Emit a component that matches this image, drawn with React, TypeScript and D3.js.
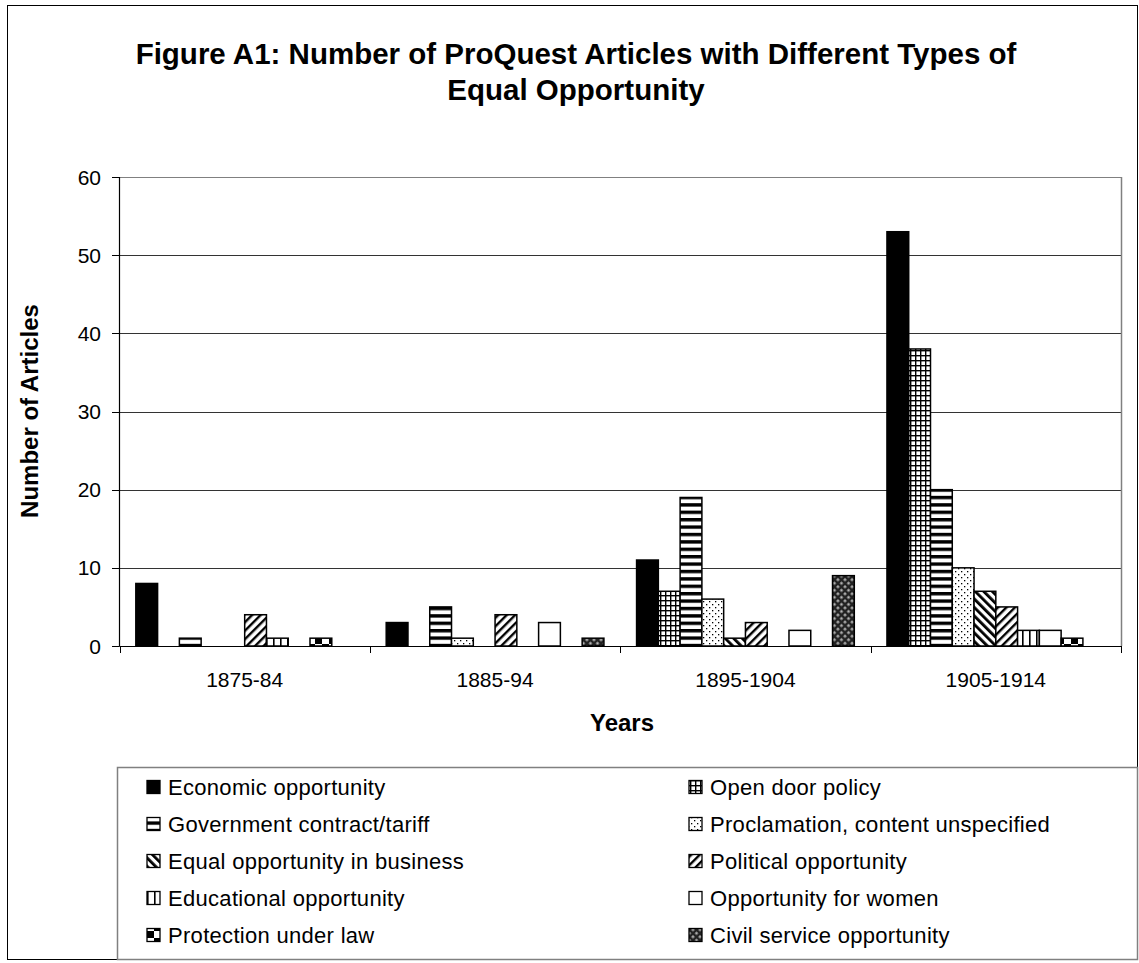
import React from "react";
import * as d3 from "d3";

const categories = ["1875-84", "1885-94", "1895-1904", "1905-1914"];
const seriesNames = [
  "Economic opportunity",
  "Open door policy",
  "Government contract/tariff",
  "Proclamation, content unspecified",
  "Equal opportunity in business",
  "Political opportunity",
  "Educational opportunity",
  "Opportunity for women",
  "Protection under law",
  "Civil service opportunity",
];
const economic = [8, 3, 11, 53];
const openDoor = [0, 0, 7, 38];
const government = [1, 5, 19, 20];
const proclamation = [0, 1, 6, 10];
const equalBusiness = [0, 0, 1, 7];
const political = [4, 4, 3, 5];
const educational = [1, 0, 0, 2];
const women = [0, 3, 2, 2];
const protection = [1, 0, 0, 1];
const civilService = [0, 1, 9, 0];
const seriesValues = [
  economic,
  openDoor,
  government,
  proclamation,
  equalBusiness,
  political,
  educational,
  women,
  protection,
  civilService,
];
const patternIds = [
  "solid",
  "grid",
  "hstripe",
  "dots",
  "downdiag",
  "updiag",
  "vstripe",
  "white",
  "checker",
  "diamond",
];
const yTicks = [0, 10, 20, 30, 40, 50, 60];

const FONT = "'Liberation Sans', Arial, sans-serif";

function fillFor(id: string) {
  if (id === "solid") return "#000";
  if (id === "white") return "#fff";
  return `url(#${id})`;
}

export default function App() {
  const W = 1139;
  const H = 963;
  const left = 119.5;
  const right = 1121;
  const top = 177;
  const bottom = 646;

  const x = d3.scaleBand<string>().domain(categories).range([left, right]).padding(0);
  const y = d3.scaleLinear().domain([0, 60]).range([bottom, top]);
  const n = seriesNames.length;
  const bw = x.bandwidth() / (n + 1.5);
  const inner = d3
    .scaleBand<number>()
    .domain(d3.range(n))
    .range([0.75 * bw, 0.75 * bw + n * bw])
    .padding(0);

  const legendX = [147, 689];
  const legendY0 = 787;
  const legendDy = 37;

  return (
    <svg
      width={W}
      height={H}
      style={{ position: "absolute", left: 0, top: 0, background: "#fff" }}
      fontFamily={FONT}
    >
      <defs>
        <pattern id="grid" width={5} height={5} patternUnits="userSpaceOnUse">
          <rect width={5} height={5} fill="#fff" />
          <rect x={0} y={0} width={1.4} height={5} fill="#000" />
          <rect x={0} y={0} width={5} height={1.4} fill="#000" />
        </pattern>
        <pattern id="hstripe" width={8} height={7.4} patternUnits="userSpaceOnUse">
          <rect width={8} height={7.4} fill="#fff" />
          <rect x={0} y={0} width={8} height={3.4} fill="#000" />
        </pattern>
        <pattern id="dots" width={6} height={6} patternUnits="userSpaceOnUse">
          <rect width={6} height={6} fill="#fff" />
          <rect x={1} y={1} width={1.3} height={1.3} fill="#000" />
          <rect x={4} y={4} width={1.3} height={1.3} fill="#000" />
        </pattern>
        <pattern
          id="downdiag"
          width={6}
          height={6}
          patternUnits="userSpaceOnUse"
          patternTransform="rotate(-45)"
        >
          <rect width={6} height={6} fill="#fff" />
          <rect x={0} y={0} width={2.8} height={6} fill="#000" />
        </pattern>
        <pattern
          id="updiag"
          width={6}
          height={6}
          patternUnits="userSpaceOnUse"
          patternTransform="rotate(45)"
        >
          <rect width={6} height={6} fill="#fff" />
          <rect x={0} y={0} width={2.4} height={6} fill="#000" />
        </pattern>
        <pattern id="vstripe" width={7} height={7} patternUnits="userSpaceOnUse">
          <rect width={7} height={7} fill="#fff" />
          <rect x={0} y={0} width={1.6} height={7} fill="#000" />
        </pattern>
        <pattern id="checker" width={14} height={14} patternUnits="userSpaceOnUse">
          <rect width={14} height={14} fill="#fff" />
          <rect x={0} y={0} width={7} height={7} fill="#000" />
          <rect x={7} y={7} width={7} height={7} fill="#000" />
        </pattern>
        <pattern
          id="diamond"
          width={5}
          height={5}
          patternUnits="userSpaceOnUse"
          patternTransform="rotate(45)"
        >
          <rect width={5} height={5} fill="#222" />
          <rect x={1.2} y={1.2} width={2.4} height={2.4} fill="#bbb" />
        </pattern>
      </defs>

      {/* outer border */}
      <rect x={7.5} y={5.5} width={1130} height={954} fill="#fff" stroke="#000" strokeWidth={1} />

      {/* title */}
      <text x={576} y={64} textAnchor="middle" fontWeight="bold" fontSize={29.5} fill="#000">
        Figure A1: Number of ProQuest Articles with Different Types of
      </text>
      <text x={576} y={100} textAnchor="middle" fontWeight="bold" fontSize={29.5} fill="#000">
        Equal Opportunity
      </text>

      {/* gridlines */}
      {yTicks.map((t) => (
        <line
          key={"g" + t}
          x1={left}
          x2={right}
          y1={Math.round(y(t)) + 0.5}
          y2={Math.round(y(t)) + 0.5}
          stroke={t === 60 ? "#808080" : "#333"}
          strokeWidth={1}
        />
      ))}
      {/* right border */}
      <line x1={right + 0.5} x2={right + 0.5} y1={top} y2={bottom} stroke="#808080" strokeWidth={1.5} />

      {/* bars */}
      {seriesValues.map((vals, si) =>
        vals.map((v, ci) =>
          v > 0 ? (
            <rect
              key={`b${si}-${ci}`}
              x={(x(categories[ci]) as number) + (inner(si) as number)}
              y={y(v)}
              width={inner.bandwidth()}
              height={y(0) - y(v)}
              fill={fillFor(patternIds[si])}
              stroke="#000"
              strokeWidth={1.5}
            />
          ) : null
        )
      )}

      {/* axes */}
      <line x1={left} x2={left} y1={top} y2={bottom} stroke="#000" strokeWidth={1.2} />
      <line x1={left} x2={right} y1={bottom + 0.5} y2={bottom + 0.5} stroke="#000" strokeWidth={1.2} />
      {yTicks.map((t) => (
        <g key={"yt" + t}>
          <line
            x1={left - 7.5}
            x2={left}
            y1={Math.round(y(t)) + 0.5}
            y2={Math.round(y(t)) + 0.5}
            stroke="#000"
            strokeWidth={1}
          />
          <text x={101} y={y(t)} dy="0.36em" textAnchor="end" fontSize={21} fill="#000">
            {t}
          </text>
        </g>
      ))}
      {[...categories.map((c) => x(c) as number), right].map((px, i) => (
        <line
          key={"xt" + i}
          x1={Math.round(px) + 0.5}
          x2={Math.round(px) + 0.5}
          y1={bottom}
          y2={bottom + 7}
          stroke="#000"
          strokeWidth={1}
        />
      ))}
      {categories.map((c) => (
        <text
          key={"xl" + c}
          x={(x(c) as number) + x.bandwidth() / 2}
          y={687}
          textAnchor="middle"
          fontSize={21}
          fill="#000"
        >
          {c}
        </text>
      ))}

      {/* axis titles */}
      <text x={622} y={731} textAnchor="middle" fontWeight="bold" fontSize={24} fill="#000">
        Years
      </text>
      <text
        transform={`translate(38,411) rotate(-90)`}
        textAnchor="middle"
        fontWeight="bold"
        fontSize={24}
        fill="#000"
      >
        Number of Articles
      </text>

      {/* legend */}
      <rect x={117.5} y={767.5} width={1020} height={192} fill="#fff" stroke="#808080" strokeWidth={1.5} />
      {seriesNames.map((name, i) => {
        const col = i % 2;
        const row = Math.floor(i / 2);
        const lx = legendX[col];
        const ly = legendY0 + row * legendDy;
        return (
          <g key={"lg" + i}>
            <rect
              x={lx}
              y={ly - 6.5}
              width={13}
              height={13}
              fill={fillFor(patternIds[i])}
              stroke="#000"
              strokeWidth={1.3}
            />
            <text x={lx + 21} y={ly} dy="0.36em" fontSize={22} letterSpacing={0.3} fill="#000">
              {name}
            </text>
          </g>
        );
      })}
    </svg>
  );
}
